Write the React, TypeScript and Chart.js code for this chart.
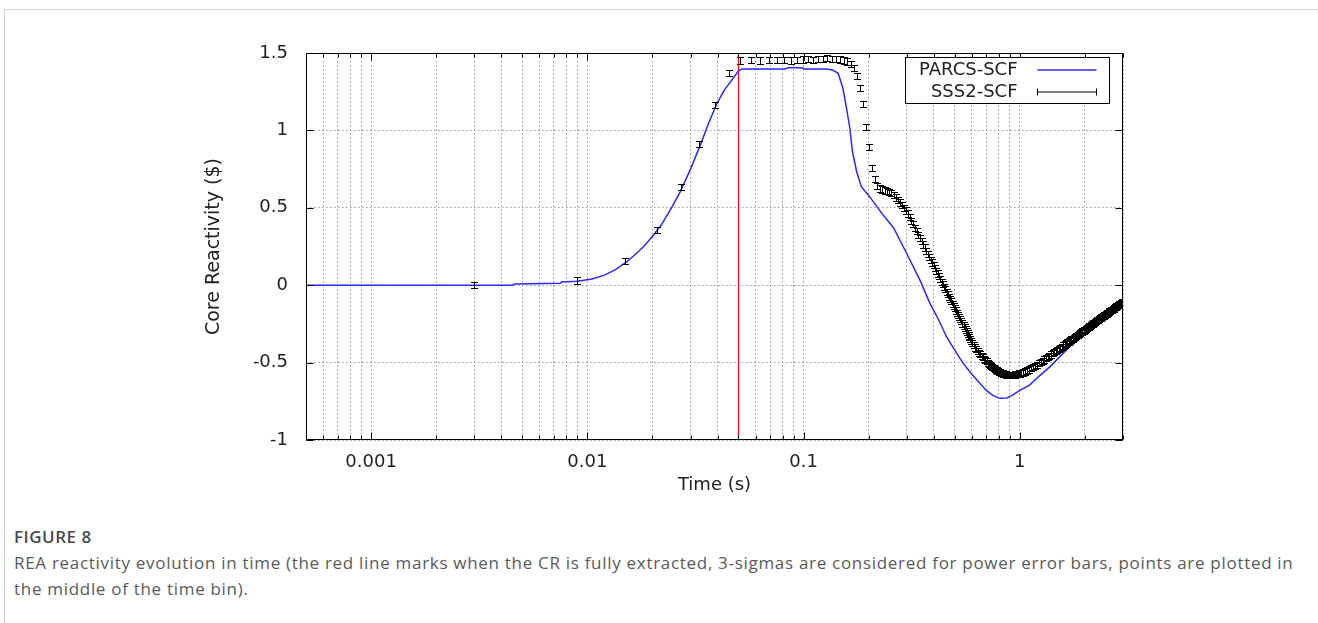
import React, { useEffect, useRef } from "react";
import { Chart, registerables } from "chart.js";

Chart.register(...registerables);

// ---- PARCS-SCF (blue line) ----
const parcsTime = [
  0.0005, 0.001, 0.002, 0.0045, 0.0046, 0.0075, 0.0076, 0.009, 0.0105, 0.012,
  0.0135, 0.0152, 0.017, 0.0185, 0.0201, 0.022, 0.0245, 0.0268, 0.03, 0.0332,
  0.036, 0.0396, 0.043, 0.0457, 0.048, 0.05, 0.052, 0.082, 0.085, 0.098,
  0.101, 0.128, 0.136, 0.1445, 0.152, 0.158, 0.1637, 0.1683, 0.176, 0.185,
  0.202, 0.23, 0.261, 0.301, 0.347, 0.384, 0.42, 0.458, 0.5, 0.547,
  0.6, 0.653, 0.7, 0.75, 0.807, 0.87, 0.93, 1.0, 1.11, 1.2,
  1.38, 1.7, 1.96, 2.37, 3.0,
];
const parcsValue = [
  0, 0, 0, 0, 0.008, 0.012, 0.02, 0.025, 0.04, 0.065,
  0.1, 0.15, 0.21, 0.26, 0.32, 0.39, 0.5, 0.6, 0.75, 0.9,
  1.03, 1.17, 1.26, 1.31, 1.35, 1.385, 1.397, 1.397, 1.405, 1.405,
  1.397, 1.397, 1.39, 1.369, 1.272, 1.143, 1.014, 0.862, 0.733, 0.636,
  0.572, 0.464, 0.37, 0.2, 0.026, -0.117, -0.22, -0.333, -0.42, -0.505,
  -0.575, -0.634, -0.68, -0.712, -0.731, -0.728, -0.709, -0.68, -0.645, -0.6,
  -0.526, -0.397, -0.322, -0.244, -0.108,
];

// ---- SSS2-SCF (points in the middle of the time bins, 3-sigma error bars) ----
const sssTime = [
  // 0.003 .. 0.297
  0.003, 0.009, 0.015, 0.021, 0.027, 0.033, 0.039, 0.045, 0.051, 0.057,
  0.063, 0.069, 0.075, 0.081, 0.087, 0.093, 0.099, 0.105, 0.111, 0.117,
  0.123, 0.129, 0.135, 0.141, 0.147, 0.153, 0.159, 0.165, 0.171, 0.177,
  0.183, 0.189, 0.195, 0.201, 0.207, 0.213, 0.219, 0.225, 0.231, 0.237,
  0.243, 0.249, 0.255, 0.261, 0.267, 0.273, 0.279, 0.285, 0.291, 0.297,
  // 0.303 .. 0.597
  0.303, 0.309, 0.315, 0.321, 0.327, 0.333, 0.339, 0.345, 0.351, 0.357,
  0.363, 0.369, 0.375, 0.381, 0.387, 0.393, 0.399, 0.405, 0.411, 0.417,
  0.423, 0.429, 0.435, 0.441, 0.447, 0.453, 0.459, 0.465, 0.471, 0.477,
  0.483, 0.489, 0.495, 0.501, 0.507, 0.513, 0.519, 0.525, 0.531, 0.537,
  0.543, 0.549, 0.555, 0.561, 0.567, 0.573, 0.579, 0.585, 0.591, 0.597,
  // 0.603 .. 0.999
  0.603, 0.612, 0.621, 0.63, 0.639, 0.648, 0.657, 0.666, 0.675, 0.684,
  0.693, 0.702, 0.711, 0.72, 0.729, 0.738, 0.747, 0.756, 0.765, 0.774,
  0.783, 0.792, 0.801, 0.81, 0.819, 0.828, 0.837, 0.846, 0.855, 0.864,
  0.873, 0.882, 0.891, 0.9, 0.909, 0.918, 0.927, 0.936, 0.945, 0.954,
  0.963, 0.972, 0.981, 0.99, 0.999,
  // 1.011 .. 2.979
  1.011, 1.035, 1.059, 1.083, 1.107, 1.131, 1.155, 1.179, 1.203, 1.227,
  1.251, 1.275, 1.299, 1.323, 1.347, 1.371, 1.395, 1.419, 1.443, 1.467,
  1.491, 1.515, 1.539, 1.563, 1.587, 1.611, 1.635, 1.659, 1.683, 1.707,
  1.731, 1.755, 1.779, 1.803, 1.827, 1.851, 1.875, 1.899, 1.923, 1.947,
  1.971, 1.995, 2.019, 2.043, 2.067, 2.091, 2.115, 2.139, 2.163, 2.187,
  2.211, 2.235, 2.259, 2.283, 2.307, 2.331, 2.355, 2.379, 2.403, 2.427,
  2.451, 2.475, 2.499, 2.523, 2.547, 2.571, 2.595, 2.619, 2.643, 2.667,
  2.691, 2.715, 2.739, 2.763, 2.787, 2.811, 2.835, 2.859, 2.883, 2.907,
  2.931, 2.955, 2.979,
];
const sssValue = [
  0.0, 0.03, 0.155, 0.357, 0.636, 0.912, 1.162, 1.37, 1.452, 1.455,
  1.452, 1.456, 1.453, 1.457, 1.452, 1.455, 1.458, 1.462, 1.456, 1.463,
  1.459, 1.466, 1.46, 1.463, 1.458, 1.452, 1.445, 1.43, 1.405, 1.353,
  1.276, 1.168, 1.024, 0.895, 0.759, 0.686, 0.64, 0.625, 0.618, 0.612,
  0.608, 0.603, 0.594, 0.582, 0.566, 0.55, 0.534, 0.518, 0.5, 0.482,

  0.463, 0.439, 0.416, 0.393, 0.37, 0.348, 0.326, 0.305, 0.284, 0.263,
  0.243, 0.223, 0.204, 0.184, 0.165, 0.147, 0.128, 0.11, 0.092, 0.075,
  0.057, 0.04, 0.023, 0.007, -0.01, -0.026, -0.042, -0.058, -0.074, -0.089,
  -0.104, -0.119, -0.134, -0.149, -0.163, -0.177, -0.192, -0.206, -0.219, -0.233,
  -0.247, -0.26, -0.273, -0.286, -0.299, -0.312, -0.325, -0.337, -0.35, -0.362,

  -0.374, -0.388, -0.402, -0.413, -0.425, -0.436, -0.446, -0.456, -0.466, -0.475,
  -0.484, -0.492, -0.501, -0.508, -0.515, -0.522, -0.529, -0.535, -0.541, -0.546,
  -0.551, -0.555, -0.559, -0.563, -0.566, -0.569, -0.571, -0.573, -0.575, -0.577,
  -0.578, -0.579, -0.58, -0.58, -0.58, -0.58, -0.579, -0.579, -0.578, -0.577,
  -0.576, -0.575, -0.573, -0.571, -0.57,

  -0.569, -0.564, -0.558, -0.551, -0.544, -0.537, -0.529, -0.521, -0.513, -0.505,
  -0.496, -0.488, -0.48, -0.471, -0.463, -0.455, -0.448, -0.44, -0.433, -0.425,
  -0.418, -0.411, -0.404, -0.397, -0.39, -0.383, -0.377, -0.37, -0.364, -0.357,
  -0.351, -0.345, -0.339, -0.333, -0.327, -0.321, -0.315, -0.31, -0.304, -0.299,
  -0.293, -0.288, -0.282, -0.277, -0.272, -0.267, -0.262, -0.256, -0.251, -0.247,
  -0.242, -0.237, -0.232, -0.227, -0.223, -0.218, -0.213, -0.209, -0.204, -0.2,
  -0.196, -0.191, -0.187, -0.183, -0.178, -0.174, -0.17, -0.166, -0.162, -0.158,
  -0.154, -0.15, -0.146, -0.142, -0.138, -0.134, -0.13, -0.127, -0.123, -0.119,
  -0.116, -0.112, -0.108,
];
const sssError = 0.02;

// ---- control rod fully extracted ----
const crExtractedTime = 0.05;

// ---- axes ----
const xMin = 0.0005;
const xMax = 3;
const xTickValues = [
  0.0005, 0.0006, 0.0007, 0.0008, 0.0009,
  0.001, 0.002, 0.003, 0.004, 0.005, 0.006, 0.007, 0.008, 0.009,
  0.01, 0.02, 0.03, 0.04, 0.05, 0.06, 0.07, 0.08, 0.09,
  0.1, 0.2, 0.3, 0.4, 0.5, 0.6, 0.7, 0.8, 0.9,
  1, 2, 3,
];
const xLabeledTicks = [0.001, 0.01, 0.1, 1];
const yTickValues = [-1, -0.5, 0, 0.5, 1, 1.5];

const FONT = "'DejaVu Sans', sans-serif";
const TEXT = "#222";

const decorPlugin = {
  id: "gnuplotDecor",
  afterDatasetsDraw(chart: any) {
    const { ctx, chartArea: a, scales } = chart;
    const xs = scales.x;
    const ys = scales.y;
    const cap = 3.5;

    // error bars
    ctx.save();
    ctx.beginPath();
    ctx.rect(a.left, a.top, a.right - a.left, a.bottom - a.top);
    ctx.clip();
    ctx.strokeStyle = "#000";
    ctx.lineWidth = 1;
    ctx.beginPath();
    sssTime.forEach((t, i) => {
      const px = Math.round(xs.getPixelForValue(t)) + 0.5;
      const yT = Math.round(ys.getPixelForValue(sssValue[i] + sssError)) + 0.5;
      const yB = Math.round(ys.getPixelForValue(sssValue[i] - sssError)) + 0.5;
      ctx.moveTo(px, yT);
      ctx.lineTo(px, yB);
      ctx.moveTo(px - cap, yT);
      ctx.lineTo(px + cap, yT);
      ctx.moveTo(px - cap, yB);
      ctx.lineTo(px + cap, yB);
    });
    ctx.stroke();
    ctx.restore();

    // frame and ticks
    ctx.save();
    ctx.strokeStyle = "#000";
    ctx.lineWidth = 1;
    const L = Math.round(a.left) + 0.5;
    const R = Math.round(a.right) - 0.5;
    const T = Math.round(a.top) + 0.5;
    const B = Math.round(a.bottom) - 0.5;
    ctx.beginPath();
    xTickValues.forEach((v) => {
      const px = Math.round(xs.getPixelForValue(v)) + 0.5;
      const len = xLabeledTicks.includes(v) ? 7 : 4;
      ctx.moveTo(px, B);
      ctx.lineTo(px, B - len);
      ctx.moveTo(px, T);
      ctx.lineTo(px, T + len);
    });
    yTickValues.forEach((v) => {
      const py = Math.round(ys.getPixelForValue(v)) + 0.5;
      ctx.moveTo(L, py);
      ctx.lineTo(L + 7, py);
      ctx.moveTo(R, py);
      ctx.lineTo(R - 7, py);
    });
    ctx.stroke();
    ctx.strokeRect(L, T, R - L, B - T);

    // legend
    const boxR = Math.round(a.right) - 13.5;
    const boxL = boxR - 204;
    const boxT = Math.round(a.top) + 4.5;
    const boxH = 46;
    ctx.fillStyle = "#fff";
    ctx.fillRect(boxL, boxT, boxR - boxL, boxH);
    ctx.strokeRect(boxL, boxT, boxR - boxL, boxH);
    const textR = boxL + 112;
    const sx0 = boxL + 132;
    const sx1 = boxL + 191;
    const row1 = boxT + 12.5;
    const row2 = boxT + 34.5;
    ctx.font = `18px ${FONT}`;
    ctx.fillStyle = TEXT;
    ctx.textAlign = "right";
    ctx.textBaseline = "middle";
    const ds = chart.data.datasets;
    ctx.fillText(ds[0].label, textR, row1);
    ctx.fillText(ds[2].label, textR, row2);
    ctx.strokeStyle = ds[0].borderColor;
    ctx.lineWidth = 1.5;
    ctx.beginPath();
    ctx.moveTo(sx0, row1);
    ctx.lineTo(sx1, row1);
    ctx.stroke();
    ctx.strokeStyle = "#000";
    ctx.lineWidth = 1;
    ctx.beginPath();
    ctx.moveTo(sx0, row2);
    ctx.lineTo(sx1, row2);
    ctx.moveTo(sx0, row2 - cap);
    ctx.lineTo(sx0, row2 + cap);
    ctx.moveTo(sx1, row2 - cap);
    ctx.lineTo(sx1, row2 + cap);
    ctx.stroke();
    ctx.restore();
  },
};

export default function App() {
  const ref = useRef<HTMLCanvasElement>(null);

  useEffect(() => {
    if (!ref.current) return;
    const chart = new Chart(ref.current, {
      type: "scatter",
      data: {
        datasets: [
          {
            label: "PARCS-SCF",
            data: parcsTime.map((t, i) => ({ x: t, y: parcsValue[i] })),
            showLine: true,
            borderColor: "#2a2aff",
            borderWidth: 1.5,
            pointRadius: 0,
            tension: 0,
          },
          {
            label: "CR extracted",
            data: [
              { x: crExtractedTime, y: yTickValues[0] },
              { x: crExtractedTime, y: yTickValues[yTickValues.length - 1] },
            ],
            showLine: true,
            borderColor: "#ff0000",
            borderWidth: 1.2,
            pointRadius: 0,
          },
          {
            label: "SSS2-SCF",
            data: sssTime.map((t, i) => ({ x: t, y: sssValue[i] })),
            showLine: false,
            pointRadius: 0,
            borderColor: "#000",
          },
        ],
      },
      options: {
        responsive: false,
        animation: false,
        devicePixelRatio: 1,
        layout: { padding: { left: 0, right: 195, top: 53, bottom: 0 } },
        plugins: { legend: { display: false }, tooltip: { enabled: false } },
        scales: {
          x: {
            type: "logarithmic",
            min: xMin,
            max: xMax,
            afterBuildTicks: (s: any) => {
              s.ticks = xTickValues.map((v) => ({ value: v }));
            },
            afterFit: (s: any) => {
              s.height = 70;
            },
            ticks: {
              autoSkip: false,
              maxRotation: 0,
              padding: 12,
              color: TEXT,
              font: { family: FONT, size: 18 },
              callback: (v: any) => (xLabeledTicks.includes(v) ? String(v) : ""),
            },
            grid: { color: "rgba(140,140,140,0.9)", lineWidth: 1, drawTicks: false },
            border: { display: false, dash: [1.5, 2.5] },
            title: {
              display: true,
              text: "Time (s)",
              color: TEXT,
              font: { family: FONT, size: 18 },
              padding: { top: 0, bottom: 14 },
            },
          },
          y: {
            type: "linear",
            min: yTickValues[0],
            max: yTickValues[yTickValues.length - 1],
            afterBuildTicks: (s: any) => {
              s.ticks = yTickValues.map((v) => ({ value: v }));
            },
            afterFit: (s: any) => {
              s.width = 306;
            },
            ticks: {
              padding: 18,
              color: TEXT,
              font: { family: FONT, size: 18 },
              callback: (v: any) => String(v),
            },
            grid: { color: "rgba(140,140,140,0.9)", lineWidth: 1, drawTicks: false },
            border: { display: false, dash: [1.5, 2.5] },
            title: {
              display: true,
              text: "Core Reactivity ($)",
              color: TEXT,
              font: { family: FONT, size: 19 },
              padding: { top: 203, bottom: 0 },
            },
          },
        },
      },
      plugins: [decorPlugin],
    } as any);
    return () => chart.destroy();
  }, []);

  return (
    <div
      style={{
        position: "absolute",
        left: 0,
        top: 0,
        width: 1318,
        height: 623,
        background: "#fff",
        overflow: "hidden",
      }}
    >
      <div
        style={{
          position: "absolute",
          left: 4,
          top: 9,
          width: 1330,
          height: 640,
          borderTop: "1px solid #d2d2d2",
          borderLeft: "1px solid #d2d2d2",
        }}
      />
      <canvas
        ref={ref}
        width={1318}
        height={510}
        style={{ position: "absolute", left: 0, top: 0, display: "block" }}
      />
      <div
        style={{
          position: "absolute",
          left: 14,
          top: 524,
          fontFamily: "'Open Sans', sans-serif",
          fontSize: 17,
          letterSpacing: "0.7px",
          lineHeight: "26px",
          color: "#5a5a5a",
          whiteSpace: "nowrap",
        }}
      >
        <div style={{ fontWeight: 600, color: "#4a4a4a", letterSpacing: "0.5px" }}>FIGURE 8</div>
        <div>
          REA reactivity evolution in time (the red line marks when the CR is fully extracted, 3-sigmas are
          considered for power error bars, points are plotted in
        </div>
        <div>the middle of the time bin).</div>
      </div>
    </div>
  );
}
